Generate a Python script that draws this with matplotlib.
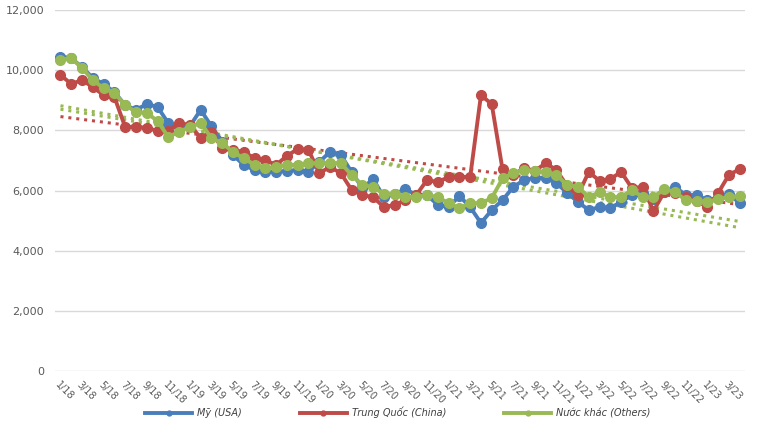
import numpy as np
import matplotlib
matplotlib.use("Agg")
import matplotlib.pyplot as plt
from matplotlib.ticker import FuncFormatter

# thang 1/2018 -> 4/2023
thang = [f"{m}/{y}" for y in range(18, 24) for m in range(1, 13)][:64]

my_usa = [10450, 10400, 10100, 9740, 9540, 9270, 8840, 8680, 8870, 8780,
          8240, 8110, 8140, 8680, 8140, 7610, 7180, 6850, 6680, 6620,
          6620, 6650, 6680, 6620, 6950, 7280, 7180, 6620, 6080, 6380,
          5780, 5880, 6050, 5850, 5850, 5520, 5450, 5820, 5450, 4920,
          5350, 5680, 6120, 6350, 6420, 6420, 6250, 5920, 5620, 5350,
          5450, 5420, 5620, 5850, 5920, 5720, 5950, 6120, 5850, 5850,
          5680, 5750, 5880, 5580]

trung_quoc = [9840, 9540, 9670, 9440, 9170, 9110, 8110, 8110, 8080, 7980,
              7980, 8240, 8180, 7750, 7950, 7410, 7350, 7280, 7080, 7010,
              6850, 7150, 7380, 7350, 6580, 6780, 6580, 6020, 5850, 5780,
              5450, 5520, 5680, 5850, 6350, 6280, 6450, 6450, 6450, 9170,
              8870, 6700, 6520, 6750, 6650, 6910, 6680, 6150, 5850, 6620,
              6320, 6380, 6620, 6080, 6120, 5320, 5950, 5920, 5780, 5650,
              5450, 5920, 6520, 6710]

nuoc_khac = [10340, 10400, 10070, 9670, 9400, 9240, 8840, 8610, 8580, 8310,
             7780, 7950, 8110, 8240, 7750, 7580, 7280, 7080, 6850, 6750,
             6780, 6850, 6850, 6910, 6910, 6910, 6910, 6520, 6180, 6120,
             5880, 5880, 5800, 5780, 5850, 5780, 5580, 5420, 5580, 5580,
             5750, 6400, 6580, 6680, 6650, 6620, 6520, 6180, 6120, 5780,
             5950, 5780, 5780, 6020, 5780, 5780, 6050, 5950, 5680, 5650,
             5620, 5720, 5780, 5820]

blue = "#4a7ebb"
red = "#be4b48"
green = "#98b954"

fig = plt.figure(figsize=(7.65, 4.33), dpi=100)
ax = fig.add_axes([0.072, 0.143, 0.902, 0.834])

x = np.arange(len(thang))
series = [
    (my_usa, blue, "Mỹ (USA)", green),
    (trung_quoc, red, "Trung Quốc (China)", red),
    (nuoc_khac, green, "Nước khác (Others)", green),
]

lines = []
for vals, col, lab, tcol in series:
    ln, = ax.plot(x, vals, color=col, lw=2.8, marker="o", ms=7,
                  mec=col, mfc=col, label=lab, zorder=3)
    lines.append(ln)

# duong xu huong tuyen tinh
for vals, col, lab, tcol in series:
    k, b = np.polyfit(x, vals, 1)
    ax.plot(x, k * x + b, color=tcol, lw=2.2, ls=(0, (1, 1.6)), zorder=2)

ax.set_xlim(-0.5, len(thang) - 0.5)
ax.set_ylim(0, 12000)
ax.set_yticks(range(0, 12001, 2000))
ax.yaxis.set_major_formatter(FuncFormatter(lambda v, p: f"{int(v):,}"))
ax.set_xticks(x[::2])
ax.set_xticklabels(thang[::2], rotation=-45, ha="left", va="top",
                   rotation_mode="anchor")
ax.tick_params(axis="x", length=0, labelsize=7, colors="#595959", pad=6)
ax.tick_params(axis="y", length=0, labelsize=8, colors="#595959", pad=8)
ax.grid(axis="y", color="#d9d9d9", lw=1)
ax.set_axisbelow(True)
for s in ax.spines.values():
    s.set_visible(False)

leg = fig.legend(handles=lines, loc="center", bbox_to_anchor=(0.52, 0.047),
                 ncol=3, frameon=False, handlelength=4.8, columnspacing=6,
                 handletextpad=0.5, markerscale=0.5,
                 prop={"style": "italic", "size": 7})
for t in leg.get_texts():
    t.set_color("#404040")

fig.savefig("out.png", dpi=100)
